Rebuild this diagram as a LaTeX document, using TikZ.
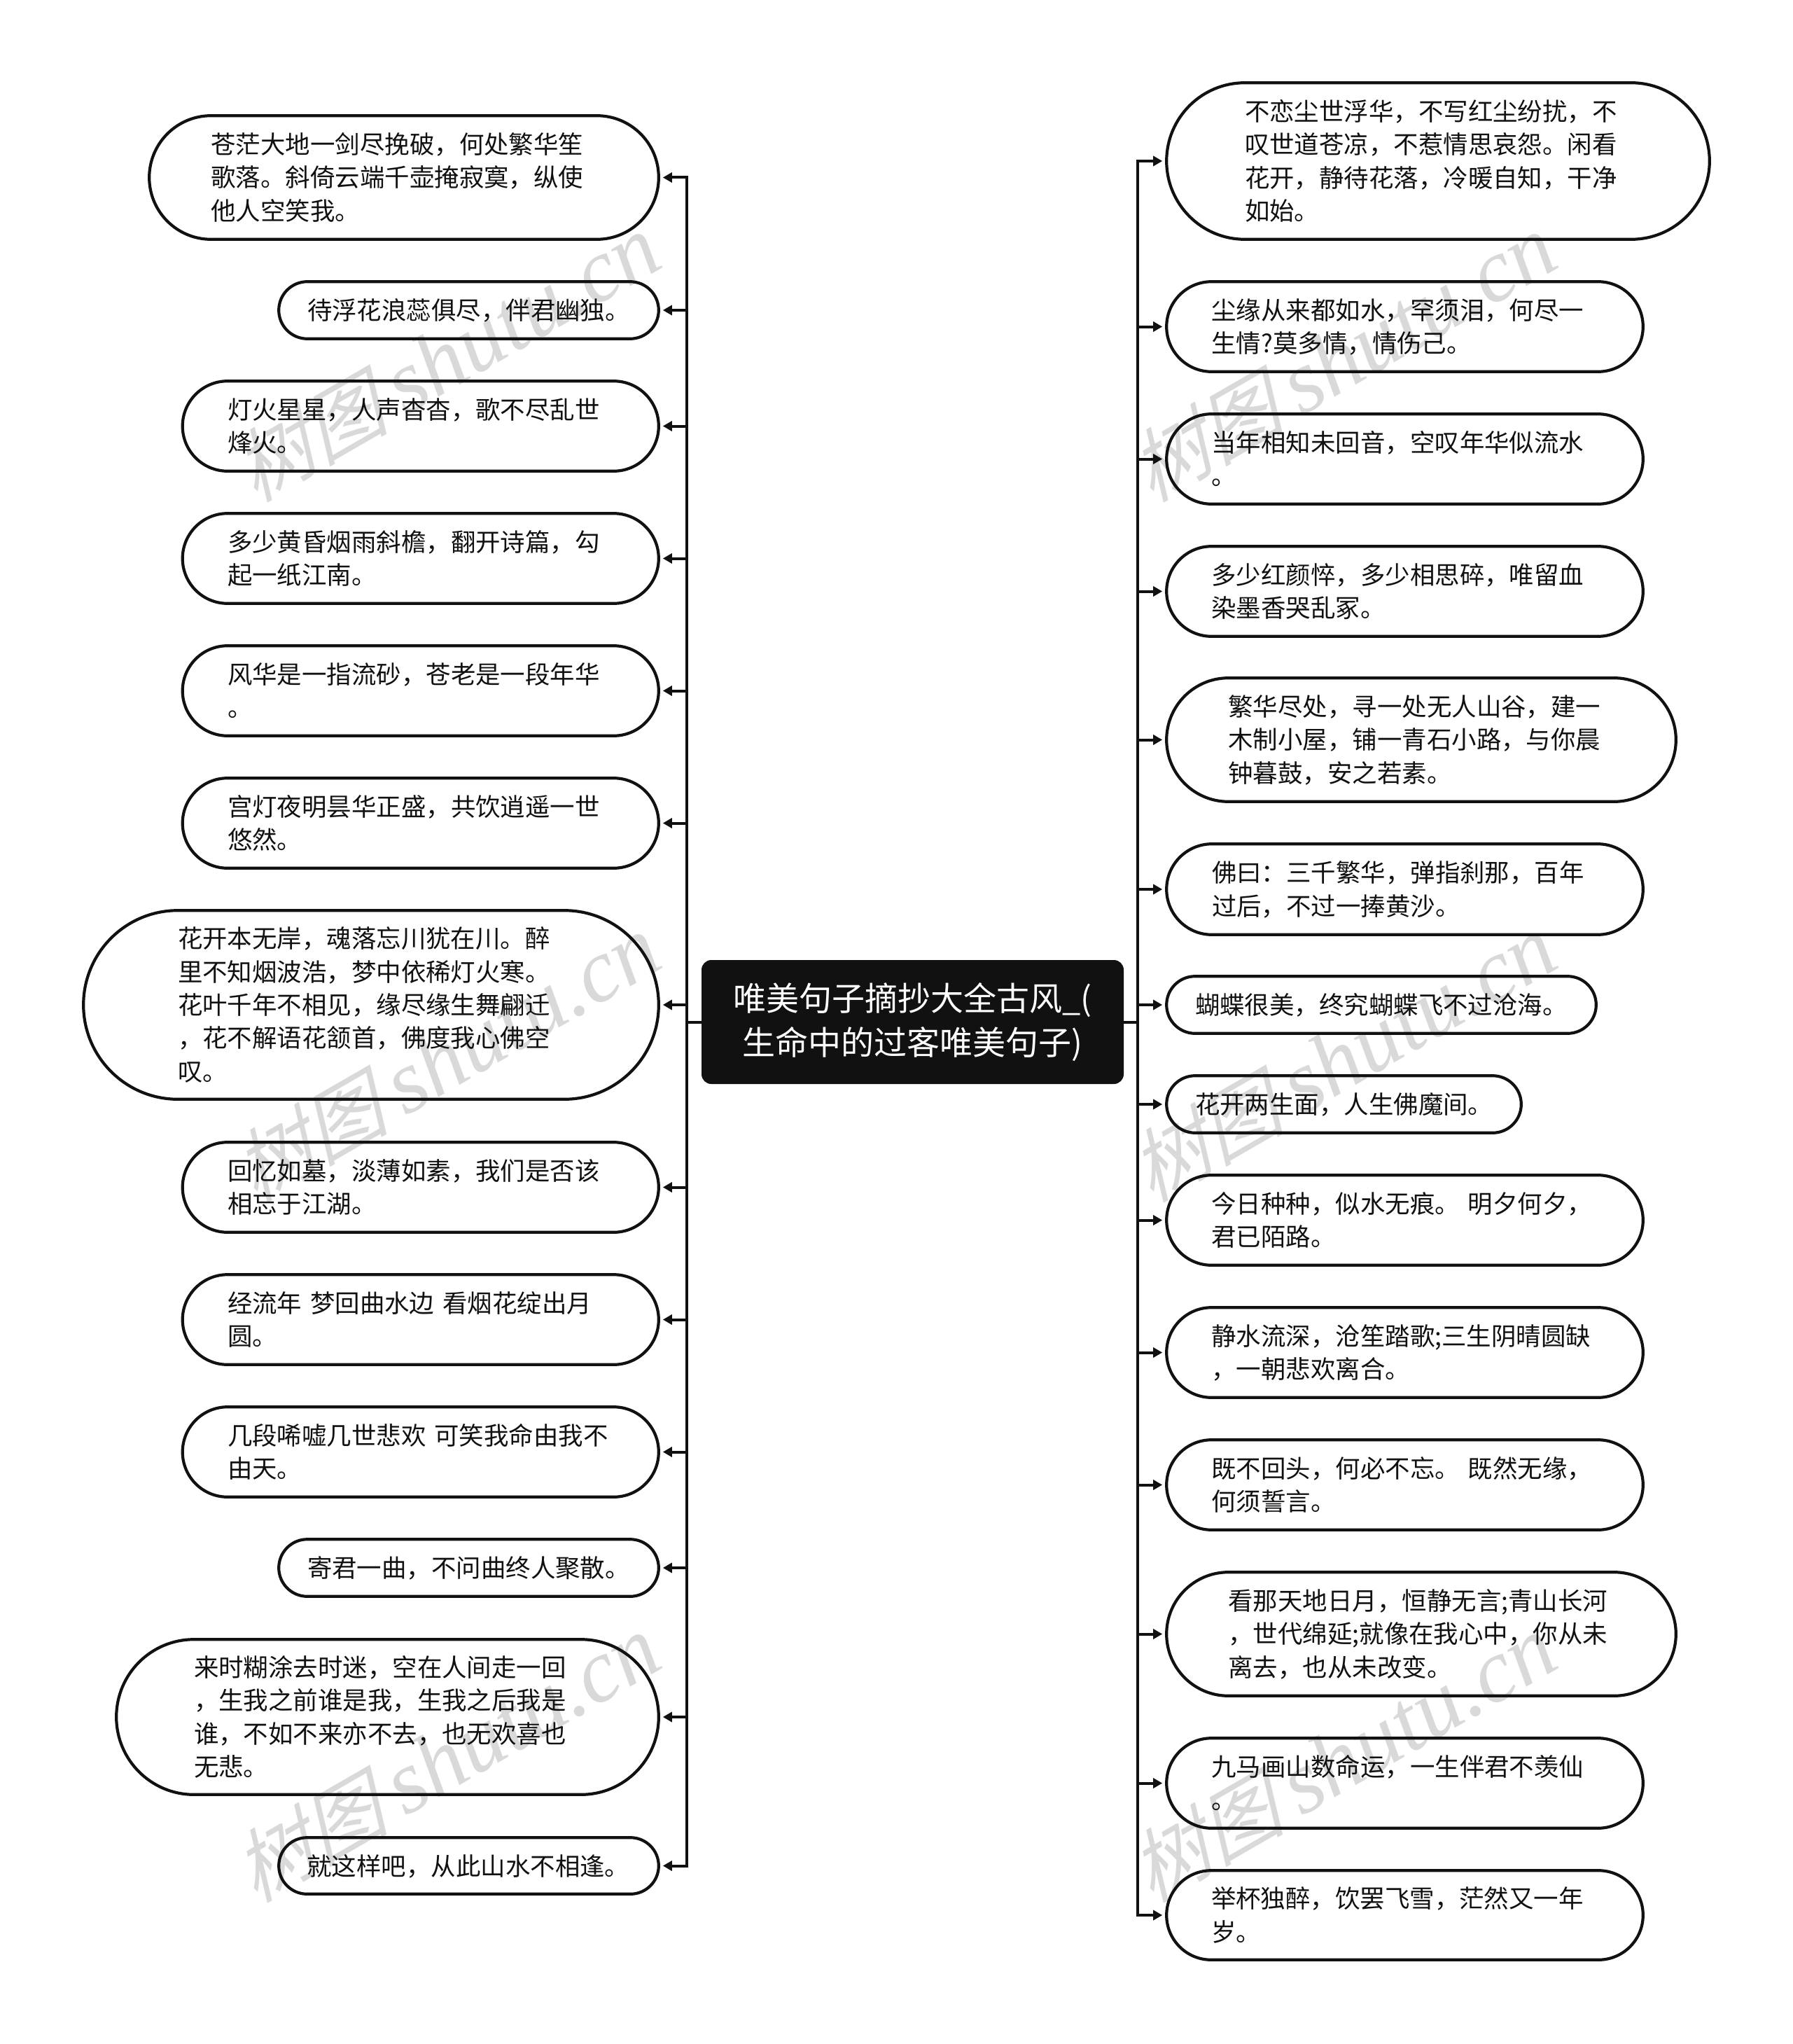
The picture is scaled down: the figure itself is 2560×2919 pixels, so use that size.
\documentclass[tikz,border=0pt]{standalone}
\usepackage{fontspec}
\setmainfont{Noto Sans CJK SC}
\newfontfamily\wmcjk[FakeSlant=0.3]{Noto Sans CJK SC}
\newfontfamily\wmlat{Liberation Serif}
\usetikzlibrary{arrows.meta}
\definecolor{ink}{HTML}{111111}
\definecolor{wmgray}{HTML}{D9D9D9}
\newcommand\vs{\rule[-.12em]{0pt}{1em}}
\tikzset{
  leaf/.style={draw=ink,line width=4.2pt,inner sep=0pt,outer sep=0pt,align=left,text=ink,
    font=\fontsize{35.45}{47.3}\selectfont},
  rootbox/.style={fill=ink,draw=none,rounded corners=14pt,minimum width=603pt,minimum height=177pt,
    inner sep=0pt,outer sep=0pt,align=center,text=white,font=\fontsize{47}{63}\selectfont},
  link/.style={draw=ink,line width=4pt,-{Triangle[length=13pt,width=14pt]},shorten >=6pt},
  wmark/.style={text=wmgray,rotate=30,inner sep=0pt},
}
\newcommand\leafnode[6]{%
  \pgfmathsetmacro\lw{#4-#2-2.4}%
  \pgfmathsetmacro\lh{#5-#3-2.4}%
  \pgfmathsetmacro\rr{(#5-#3-2.4)/2}%
  \pgfmathsetmacro\tw{#4-#2-(#5-#3)}%
  \node[leaf,minimum width=\lw pt,minimum height=\lh pt,rounded corners=\rr pt,text width=\tw pt]
    (#1) at ({(#2+#4)/2},{(#3+#5)/2}) {\vs #6\vs};%
}
\newcommand\wmtext{{\fontsize{112}{112}\selectfont\wmcjk 树图}\hspace{24pt}{\fontsize{128}{128}\selectfont\wmlat\itshape shutu.cn}}
\begin{document}
\begin{tikzpicture}[x=1pt,y=-1pt]
\useasboundingbox (0,0) rectangle (2560,2919);
\fill[white] (0,0) rectangle (2560,2919);
% watermarks
\node[wmark] (wa) at (637,512) {\wmtext};
\node[wmark] (wb) at (1917,512) {\wmtext};
\node[wmark] (wc) at (637,1512) {\wmtext};
\node[wmark] (wd) at (1917,1512) {\wmtext};
\node[wmark] (we) at (637,2512) {\wmtext};
\node[wmark] (wf) at (1917,2512) {\wmtext};
% root
\node[rootbox] (root) at (1303.5,1459.5) {唯美句子摘抄大全古风\_(\\生命中的过客唯美句子)};
\coordinate (LT) at (981,0);
\coordinate (RT) at (1624.5,0);
% left
\leafnode{la}{212}{164}{942}{343}{苍茫大地一剑尽挽破，何处繁华笙\\歌落。斜倚云端千壶掩寂寞，纵使\\他人空笑我。}
\leafnode{lb}{397}{401}{942}{485}{待浮花浪蕊俱尽，伴君幽独。}
\leafnode{lc}{259.5}{543}{942}{674}{灯火星星，人声杳杳，歌不尽乱世\\烽火。}
\leafnode{ld}{259.5}{732}{942}{863}{多少黄昏烟雨斜檐，翻开诗篇，勾\\起一纸江南。}
\leafnode{le}{259.5}{921}{942}{1052}{风华是一指流砂，苍老是一段年华\\。}
\leafnode{lf}{259.5}{1110}{942}{1241}{宫灯夜明昙华正盛，共饮逍遥一世\\悠然。}
\leafnode{lg}{118}{1299}{942}{1571}{花开本无岸，魂落忘川犹在川。醉\\里不知烟波浩，梦中依稀灯火寒。\\花叶千年不相见，缘尽缘生舞翩迁\\，花不解语花颔首，佛度我心佛空\\叹。}
\leafnode{lh}{259.5}{1630}{942}{1761}{回忆如墓，淡薄如素，我们是否该\\相忘于江湖。}
\leafnode{li}{259.5}{1819}{942}{1950}{经流年~梦回曲水边~看烟花绽出月\\圆。}
\leafnode{lj}{259.5}{2008}{942}{2139}{几段唏嘘几世悲欢~可笑我命由我不\\由天。}
\leafnode{lk}{397}{2197}{942}{2281}{寄君一曲，不问曲终人聚散。}
\leafnode{ll}{165}{2340}{942}{2564}{来时糊涂去时迷，空在人间走一回\\，生我之前谁是我，生我之后我是\\谁，不如不来亦不去，也无欢喜也\\无悲。}
\leafnode{lm}{397}{2623}{942}{2706}{就这样吧，从此山水不相逢。}
% right
\leafnode{ra}{1665}{117}{2443}{343}{不恋尘世浮华，不写红尘纷扰，不\\叹世道苍凉，不惹情思哀怨。闲看\\花开，静待花落，冷暖自知，干净\\如始。}
\leafnode{rb}{1665}{401}{2348}{532}{尘缘从来都如水，罕须泪，何尽一\\生情?莫多情，情伤己。}
\leafnode{rc}{1665}{590}{2348}{721}{当年相知未回音，空叹年华似流水\\。}
\leafnode{rd}{1665}{779}{2348}{910}{多少红颜悴，多少相思碎，唯留血\\染墨香哭乱冢。}
\leafnode{re}{1665}{967}{2395}{1146}{繁华尽处，寻一处无人山谷，建一\\木制小屋，铺一青石小路，与你晨\\钟暮鼓，安之若素。}
\leafnode{rf}{1665}{1204}{2348}{1336}{佛曰：三千繁华，弹指刹那，百年\\过后，不过一捧黄沙。}
\leafnode{rg}{1665}{1393}{2281}{1477}{蝴蝶很美，终究蝴蝶飞不过沧海。}
\leafnode{rh}{1665}{1535}{2174}{1619}{花开两生面，人生佛魔间。}
\leafnode{ri}{1665}{1677}{2348}{1808}{今日种种，似水无痕。~明夕何夕，\\君已陌路。}
\leafnode{rj}{1665}{1866}{2348}{1997}{静水流深，沧笙踏歌;三生阴晴圆缺\\，一朝悲欢离合。}
\leafnode{rk}{1665}{2055}{2348}{2186}{既不回头，何必不忘。~既然无缘，\\何须誓言。}
\leafnode{rl}{1665}{2244}{2395}{2423}{看那天地日月，恒静无言;青山长河\\，世代绵延;就像在我心中，你从未\\离去，也从未改变。}
\leafnode{rm}{1665}{2481}{2348}{2612}{九马画山数命运，一生伴君不羡仙\\。}
\leafnode{rn}{1665}{2670}{2348}{2800}{举杯独醉，饮罢飞雪，茫然又一年\\岁。}
% connectors
\foreach \n in {la,lb,lc,ld,le,lf,lg,lh,li,lj,lk,ll,lm}
  \draw[link] (root.west) -- (LT |- root.west) -- (LT |- \n.east) -- (\n.east);
\foreach \n in {ra,rb,rc,rd,re,rf,rg,rh,ri,rj,rk,rl,rm,rn}
  \draw[link] (root.east) -- (RT |- root.east) -- (RT |- \n.west) -- (\n.west);
\end{tikzpicture}
\end{document}
